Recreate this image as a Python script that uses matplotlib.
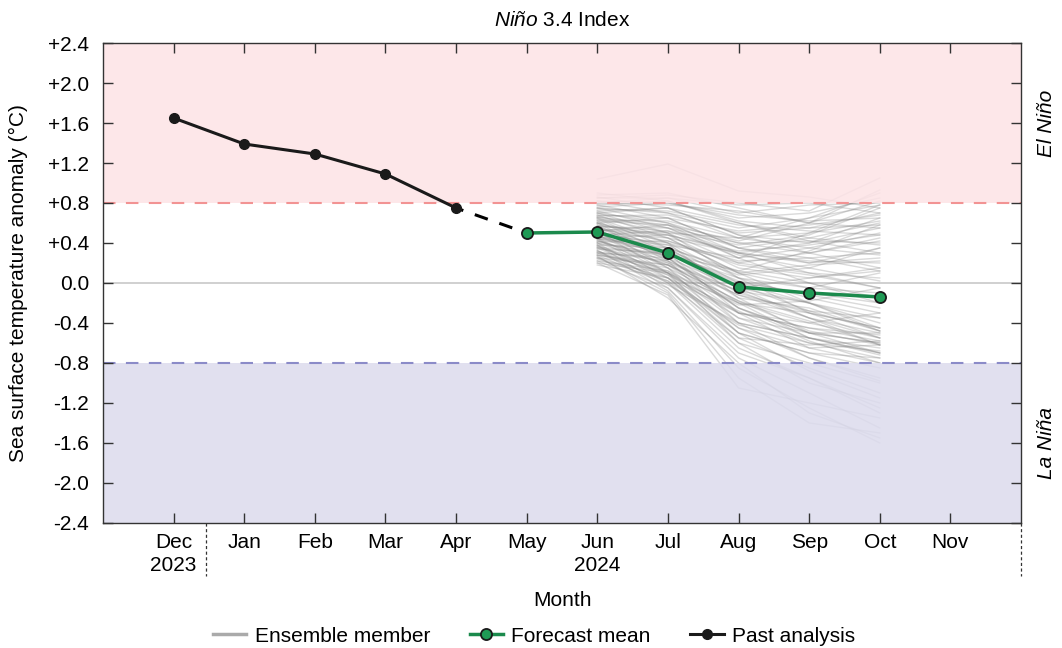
import numpy as np
import matplotlib
matplotlib.use("Agg")
from matplotlib import pyplot as plt
from matplotlib import transforms

plt.rcParams['font.family'] = ['Liberation Sans', 'DejaVu Sans']
plt.rcParams['mathtext.fontset'] = 'custom'
plt.rcParams['mathtext.rm'] = 'Liberation Sans'
plt.rcParams['mathtext.it'] = 'Liberation Sans:italic'

months = ['Dec', 'Jan', 'Feb', 'Mar', 'Apr', 'May', 'Jun', 'Jul', 'Aug', 'Sep', 'Oct', 'Nov']

# past analysis Dec 2023 - Apr 2024
past_months = ['Dec', 'Jan', 'Feb', 'Mar', 'Apr']
past_values = [1.65, 1.39, 1.29, 1.09, 0.75]

# forecast mean May - Oct
fc_months = ['May', 'Jun', 'Jul', 'Aug', 'Sep', 'Oct']
fc_values = [0.50, 0.51, 0.30, -0.04, -0.10, -0.14]

# ensemble members Jun - Oct
ens_months = ['Jun', 'Jul', 'Aug', 'Sep', 'Oct']
ensemble = [
    [1.04, 1.19, 0.92, 0.86, 0.75],
    [0.85, 0.88, 0.80, 0.72, 1.05],
    [0.88, 0.90, 0.75, 0.60, 0.93],
    [0.80, 0.85, 0.70, 0.78, 0.80],
    [0.78, 0.82, 0.62, 0.55, 0.70],
    [0.75, 0.70, 0.55, 0.65, 0.78],
    [0.72, 0.75, 0.48, 0.40, 0.55],
    [0.70, 0.60, 0.40, 0.30, 0.42],
    [0.68, 0.65, 0.35, 0.45, 0.60],
    [0.66, 0.55, 0.30, 0.20, 0.25],
    [0.65, 0.50, 0.20, 0.10, 0.05],
    [0.62, 0.58, 0.25, 0.35, 0.50],
    [0.60, 0.45, 0.10, -0.05, -0.10],
    [0.60, 0.40, 0.05, -0.15, -0.30],
    [0.58, 0.48, 0.15, 0.05, 0.15],
    [0.56, 0.35, -0.05, -0.20, -0.35],
    [0.55, 0.30, -0.10, -0.30, -0.45],
    [0.54, 0.42, 0.22, 0.25, 0.30],
    [0.52, 0.25, -0.20, -0.40, -0.55],
    [0.50, 0.20, -0.25, -0.50, -0.60],
    [0.50, 0.38, 0.00, -0.10, -0.20],
    [0.48, 0.15, -0.35, -0.60, -0.75],
    [0.47, 0.28, -0.15, -0.25, -0.48],
    [0.45, 0.10, -0.45, -0.75, -0.95],
    [0.45, 0.32, 0.08, 0.15, 0.35],
    [0.44, 0.05, -0.55, -0.85, -1.10],
    [0.42, 0.22, -0.12, -0.35, -0.50],
    [0.40, 0.00, -0.65, -0.95, -1.25],
    [0.40, 0.18, -0.30, -0.45, -0.52],
    [0.38, -0.05, -0.75, -1.10, -1.45],
    [0.36, 0.12, -0.40, -0.55, -0.70],
    [0.35, 0.20, -0.08, -0.20, -0.48],
    [0.33, -0.08, -0.85, -1.25, -1.60],
    [0.32, 0.08, -0.50, -0.70, -0.85],
    [0.30, 0.02, -0.60, -0.80, -1.00],
    [0.28, 0.15, -0.20, -0.30, -0.45],
    [0.26, -0.10, -0.95, -1.40, -1.50],
    [0.25, 0.05, -0.45, -0.65, -0.62],
    [0.22, -0.05, -0.70, -0.95, -1.30],
    [0.20, -0.12, -1.05, -1.20, -1.35],
    [0.75, 0.60, 0.30, 0.10, -0.05],
    [0.70, 0.50, 0.05, -0.30, -0.55],
    [0.65, 0.40, -0.15, -0.50, -0.70],
    [0.62, 0.30, -0.30, -0.65, -0.80],
    [0.58, 0.22, -0.40, -0.75, -0.98],
    [0.55, 0.15, -0.50, -0.88, -1.15],
    [0.52, 0.10, -0.60, -1.00, -1.20],
    [0.50, 0.45, 0.30, 0.40, 0.65],
    [0.48, 0.40, 0.20, 0.30, 0.45],
    [0.46, 0.35, 0.12, 0.00, -0.15],
    [0.44, 0.30, 0.00, -0.20, -0.40],
    [0.42, 0.25, -0.25, -0.50, -0.60],
    [0.40, 0.28, 0.05, -0.05, 0.10],
    [0.38, 0.10, -0.35, -0.50, -0.50],
    [0.35, 0.05, -0.50, -0.70, -0.75],
    [0.32, 0.00, -0.55, -0.62, -0.58],
    [0.30, 0.10, -0.30, -0.40, -0.30],
    [0.28, -0.02, -0.40, -0.55, -0.65],
    [0.82, 0.70, 0.45, 0.50, 0.62],
    [0.78, 0.65, 0.35, 0.20, 0.35],
    [0.72, 0.55, 0.25, 0.00, -0.20],
    [0.68, 0.45, 0.10, -0.20, -0.45],
    [0.64, 0.35, -0.05, -0.35, -0.62],
    [0.60, 0.25, -0.25, -0.55, -0.72],
    [0.57, 0.52, 0.38, 0.48, 0.75],
    [0.53, 0.48, 0.30, 0.22, 0.20],
    [0.49, 0.32, -0.02, -0.28, -0.48],
    [0.43, 0.18, -0.18, -0.38, -0.62],
    [0.37, 0.08, -0.28, -0.58, -0.80],
    [0.27, -0.15, -0.80, -1.30, -1.55],
    [0.85, 0.85, 0.78, 0.80, 0.70],
    [0.82, 0.80, 0.65, 0.70, 0.85],
    [0.80, 0.78, 0.72, 0.60, 0.55],
    [0.76, 0.80, 0.68, 0.62, 0.65],
    [0.74, 0.72, 0.58, 0.52, 0.48],
    [0.70, 0.75, 0.60, 0.45, 0.38],
    [0.67, 0.68, 0.50, 0.55, 0.58],
    [0.63, 0.62, 0.45, 0.35, 0.28],
    [0.60, 0.65, 0.52, 0.58, 0.68],
    [0.56, 0.55, 0.40, 0.42, 0.40],
    [0.52, 0.58, 0.35, 0.25, 0.12],
    [0.48, 0.52, 0.28, 0.15, 0.02],
    [0.45, 0.48, 0.32, 0.38, 0.48],
    [0.41, 0.42, 0.18, 0.08, -0.05],
    [0.38, 0.35, 0.10, 0.18, 0.22],
    [0.34, 0.30, 0.02, -0.12, -0.25],
    [0.30, 0.25, -0.05, 0.05, 0.12],
    [0.25, 0.18, -0.12, -0.28, -0.35],
    [0.22, 0.12, -0.22, -0.18, -0.05],
    [0.18, 0.05, -0.30, -0.45, -0.58],
    [0.90, 0.82, 0.60, 0.42, 0.30],
    [0.86, 0.75, 0.48, 0.30, 0.15],
    [0.66, 0.58, 0.42, 0.60, 0.82],
    [0.54, 0.50, 0.45, 0.65, 0.90],
    [0.44, 0.38, 0.25, 0.50, 0.78],
    [0.36, 0.28, 0.12, 0.32, 0.58],
    [0.31, 0.22, -0.08, -0.35, -0.55],
    [0.28, 0.18, -0.18, -0.48, -0.62],
    [0.24, 0.02, -0.42, -0.60, -0.68],
    [0.20, 0.10, -0.20, -0.55, -0.70],
]

yticks = [-2.4, -2.0, -1.6, -1.2, -0.8, -0.4, 0.0, 0.4, 0.8, 1.2, 1.6, 2.0, 2.4]

FS = 15

xpos = {m: i for i, m in enumerate(months)}
past_x = [xpos[m] for m in past_months]
fc_x = [xpos[m] for m in fc_months]
ens_x = [xpos[m] for m in ens_months]

fig = plt.figure(figsize=(10.62, 6.48), dpi=100)
ax = fig.add_axes([0.097, 0.193, 0.8644, 0.7406])

for member in ensemble:
    ax.plot(ens_x, member, color='#858585', lw=1.0, alpha=0.3, zorder=2)

# shaded El Nino / La Nina bands drawn over the ensemble
ax.axhspan(0.8, 2.4, color='#fde3e6', alpha=0.85, lw=0, zorder=3)
ax.axhspan(-2.4, -0.8, color='#dcdbed', alpha=0.85, lw=0, zorder=3)
ax.axhline(0.8, color='#f29393', lw=1.5, ls=(0, (6, 5)), zorder=4)
ax.axhline(-0.8, color='#8b8bc8', lw=1.5, ls=(0, (6, 5)), zorder=4)
ax.axhline(0.0, color='#c8c8c8', lw=1.2, zorder=1)

# dashed gap between analysis and forecast
ax.plot([past_x[-1], fc_x[0]], [past_values[-1], fc_values[0]], color='black',
        lw=2.2, ls=(2, (4.5, 4)), zorder=5)
ax.plot(past_x, past_values, color='#1a1a1a', lw=2.2, marker='o', ms=7,
        mfc='#1a1a1a', mec='#1a1a1a', zorder=6, label='Past analysis')
ax.plot(fc_x, fc_values, color='#1b8a4c', lw=2.5, marker='o', ms=8,
        mfc='#1f9a55', mec='#1a1a1a', mew=1.3, zorder=6, label='Forecast mean')

ax.set_xlim(-1, 12)
ax.set_ylim(-2.4, 2.4)
ax.set_xticks(range(len(months)))
ax.set_xticklabels(months)
ax.set_yticks(yticks)
ax.set_yticklabels(['0.0' if v == 0 else f'{v:+.1f}' for v in yticks])
ax.tick_params(direction='in', top=True, right=True, length=7, width=1,
               labelsize=FS, color='#333333')
ax.tick_params(axis='x', pad=7)
ax.tick_params(axis='y', pad=10)
ax.xaxis.set_zorder(10)
ax.yaxis.set_zorder(10)
for sp in ax.spines.values():
    sp.set_color('#333333')
    sp.set_linewidth(1)
    sp.set_zorder(10)

fig.text(0.529, 1 - 20 / 648, r'$\it{Niño}$ 3.4 Index', fontsize=FS, ha='center', va='center')
fig.text(18 / 1062, 1 - 283 / 648, 'Sea surface temperature anomaly (°C)', fontsize=FS,
         rotation=90, ha='center', va='center')
ax.text(0.5, -(601 - 523) / 480, 'Month', transform=ax.transAxes, ha='center',
        va='center', fontsize=FS)

trans = transforms.blended_transform_factory(ax.transData, ax.transAxes)
ax.text(0, -(566 - 523) / 480, '2023', transform=trans, ha='center', va='center', fontsize=FS)
ax.text(6, -(566 - 523) / 480, '2024', transform=trans, ha='center', va='center', fontsize=FS)
for xs in [0.46, 12]:
    ax.plot([xs, xs], [0, -0.11], transform=trans, color='#333333', lw=0.9,
            ls=(0, (2.5, 2)), clip_on=False)

ax.text(1.028, 0.833, 'El Niño', transform=ax.transAxes, rotation=90,
        ha='center', va='center', fontsize=FS, style='italic')
ax.text(1.028, 0.167, 'La Niña', transform=ax.transAxes, rotation=90,
        ha='center', va='center', fontsize=FS, style='italic')

ens_handle, = ax.plot([], [], color='#aaaaaa', lw=2.5, label='Ensemble member')
handles = [ens_handle] + [h for h in ax.get_lines() if h.get_label() == 'Forecast mean'] \
    + [h for h in ax.get_lines() if h.get_label() == 'Past analysis']
fig.legend(handles=handles, loc='center', bbox_to_anchor=(0.503, 12 / 648),
           ncol=3, frameon=False, fontsize=FS, handlelength=1.6, columnspacing=1.9,
           handletextpad=0.4)

fig.savefig('out.png', dpi=100)
